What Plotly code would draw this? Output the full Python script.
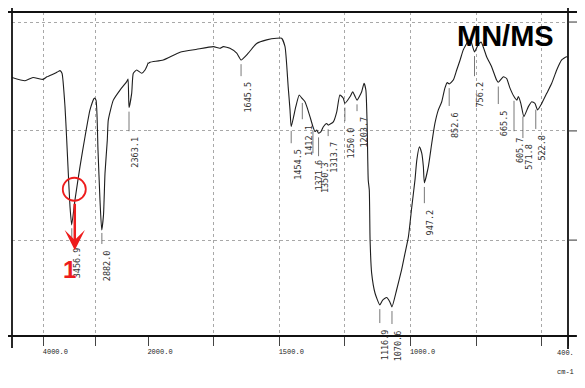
import numpy as np
import plotly.graph_objects as go

# ---- spectrum (wavenumber cm-1, transmittance %) ----
wavenumber = [4600, 4351, 4199, 4007, 3931, 3778, 3721, 3682, 3644, 3587, 3554, 3524,
              3491, 3459, 3396, 3300, 3204, 3109, 3027, 2994, 2956, 2918, 2885, 2851,
              2822, 2778, 2759, 2663, 2535, 2407, 2382, 2363, 2312, 2281, 2216, 2120,
              2057, 2000, 1992, 1942, 1878, 1814, 1751, 1726, 1713, 1688, 1662, 1645.5,
              1618, 1586, 1548, 1510, 1491, 1478, 1466, 1459, 1454.5, 1437, 1424, 1414,
              1402, 1395, 1383, 1371.6, 1364, 1357, 1350.3, 1341, 1332, 1319, 1313.7,
              1294, 1281, 1269, 1256, 1250, 1230, 1220, 1211, 1203.7, 1186, 1177, 1170,
              1165, 1161, 1157, 1154, 1148, 1135, 1116.9, 1106, 1091, 1079, 1070.6, 1053,
              1034, 1021, 1008, 995, 983, 976, 966, 957, 951, 947.2, 932, 919, 907, 894,
              881, 869, 860, 852.6, 837, 824, 811, 799, 786, 779, 770, 756.2, 743, 731,
              710, 691, 672, 665.5, 646, 634, 621, 605.7, 595, 589, 580, 568, 551, 538,
              526, 516, 500, 481, 462, 443, 424, 405, 400]
transmittance = [79.8, 78.8, 79.8, 79.2, 80.0, 81.1, 81.6, 81.9, 81.1, 70.8, 60.5, 50.3,
                 39.9, 34.3, 42.0, 52.3, 61.5, 69.8, 73.4, 72.8, 57.4, 42.0, 32.7, 37.3,
                 50.2, 60.5, 66.7, 72.8, 75.9, 78.5, 79.3, 70.5, 74.9, 81.1, 82.1, 81.1,
                 82.1, 84.1, 84.5, 85.2, 87.6, 88.5, 89.3, 88.8, 89.3, 88.8, 87.3, 85.2,
                 87.3, 90.3, 91.4, 91.9, 91.9, 89.3, 76.9, 69.8, 64.6, 70.8, 74.4, 73.4,
                 72.3, 70.8, 67.7, 64.6, 63.1, 63.6, 62.6, 63.1, 64.6, 65.6, 65.1,
                 66.1, 69.2, 74.4, 73.4, 71.8, 73.9, 75.4, 73.9, 72.8, 75.4, 78.0, 75.9,
                 64.6, 48.1, 45.1, 29.6, 19.4, 13.2, 9.6, 11.1, 11.9, 10.6, 9.0, 14.2,
                 20.4, 25.5, 30.6, 39.9, 48.1, 54.3, 58.4, 56.4, 52.3, 47.3, 52.3, 59.5, 65.6, 69.8,
                 72.3, 76.5, 78.2, 77.8, 79.0, 82.1, 85.2, 88.3, 90.3, 91.4, 91.0, 87.7, 89.8, 90.7,
                 86.2, 83.1, 79.0, 78.3, 80.0, 79.5, 76.5, 73.9, 72.8, 73.9, 71.9, 67.7, 70.8, 72.3,
                 71.8, 69.8, 71.8, 74.9, 78.0, 82.1, 85.2, 86.2, 86.0]

# ---- peak labels ----
peak_wn = [3456.9, 2882.0, 2363.1, 1645.5, 1454.5, 1412.1, 1371.6, 1350.3, 1313.7, 1250.0,
           1203.7, 1116.9, 1070.6, 947.2, 852.6, 756.2, 665.5, 605.7, 571.8, 522.8]
peak_text = ["3456.9", "2882.0", "2363.1", "1645.5", "1454.5", "1412.1", "1371.6", "1350.3",
             "1313.7", "1250.0", "1203.7", "1116.9", "1070.6", "947.2", "852.6", "756.2",
             "665.5", "605.7", "571.8", "522.8"]
peak_label_top = [28.1, 27.2, 62.0, 79.0, 58.3, 65.7, 55.2, 54.3, 60.5, 65.1, 68.2, 2.8, 2.5,
                  39.8, 69.8, 79.0, 70.4, 62.0, 59.9, 62.7]

# ---- axes ----
left_ticks = [4000, 3000]
left_ticktext = ["4000.0", ""]
right_ticks = [2000, 1750, 1500, 1250, 1000, 750, 500, 400]
right_ticktext = ["2000.0", "", "1500.0", "", "1000.0", "", "", ""]
end_tick_text = "400."
y_grid = [29.6, 63.3, 96.9]

LEFT_DOMAIN = 136 / 556

fig = go.Figure()
line_style = dict(color="#1e1e1e", width=1.1, shape="spline", smoothing=0.5)
fig.add_trace(go.Scatter(x=wavenumber, y=transmittance, mode="lines", line=line_style,
                         xaxis="x", yaxis="y", hoverinfo="skip"))
fig.add_trace(go.Scatter(x=wavenumber, y=transmittance, mode="lines", line=line_style,
                         xaxis="x2", yaxis="y2", hoverinfo="skip"))

# leader lines from each dip down to its label
wn_inc = np.array(wavenumber[::-1], dtype=float)
t_inc = np.array(transmittance[::-1], dtype=float)
lx, ly = [], []
for w, top in zip(peak_wn, peak_label_top):
    t_dip = float(np.interp(w, wn_inc, t_inc))
    y0, y1 = t_dip - 1.3, top + 1.2
    if y0 > y1:
        lx += [w, w, None]
        ly += [y0, y1, None]
for xa, ya in (("x", "y"), ("x2", "y2")):
    fig.add_trace(go.Scatter(x=lx, y=ly, mode="lines", line=dict(color="#555", width=0.8),
                             xaxis=xa, yaxis=ya, hoverinfo="skip"))

annotations = []
for w, txt, top in zip(peak_wn, peak_text, peak_label_top):
    annotations.append(dict(
        x=w, y=top, xref="x" if w >= 2000 else "x2", yref="y",
        text=txt, textangle=-90, showarrow=False, xanchor="center", yanchor="top",
        xshift=6, font=dict(family="DejaVu Sans Mono", size=8.5, color="#333")))

# red marker: circle, arrow and number
annotations.append(dict(x=3400, y=26.5, xref="x", yref="y", text="", showarrow=True,
                        ax=0, ay=-48, arrowhead=3, arrowwidth=2.5, arrowsize=1.35,
                        arrowcolor="#ee1c1c"))
annotations.append(dict(x=3510, y=20.4, xref="x", yref="y", text="<b>1</b>", showarrow=False,
                        xanchor="center", yanchor="middle",
                        font=dict(family="Liberation Sans", size=24, color="#ee1c1c")))
annotations.append(dict(x=0.887, y=0.926, xref="paper", yref="paper", text="<b>MN/MS</b>",
                        showarrow=False, xanchor="center", yanchor="middle",
                        font=dict(family="Liberation Sans", size=29, color="#000")))
annotations.append(dict(x=1.0144, y=-0.11, xref="paper", yref="paper", text="cm-1",
                        showarrow=False, xanchor="right", yanchor="middle",
                        font=dict(family="Liberation Mono", size=7, color="#222")))
annotations.append(dict(x=1.0144, y=-0.052, xref="paper", yref="paper",
                        text=end_tick_text, showarrow=False, xanchor="right",
                        yanchor="middle",
                        font=dict(family="Liberation Mono", size=7, color="#222")))

shapes = [
    dict(type="circle", xref="x", yref="y", xsizemode="pixel", ysizemode="pixel",
         xanchor=3409, yanchor=45.3, x0=-11.5, x1=11.5, y0=-11.5, y1=11.5,
         line=dict(color="#ee1c1c", width=1.8)),
    # frame
    dict(type="line", xref="paper", yref="paper", x0=-0.013, x1=1.03, y0=1, y1=1,
         line=dict(color="#111", width=1.8)),
    dict(type="line", xref="paper", yref="paper", x0=-0.013, x1=1.016, y0=0, y1=0,
         line=dict(color="#111", width=1.8)),
    dict(type="line", xref="paper", yref="paper", x0=0, x1=0, y0=-0.037, y1=1.025,
         line=dict(color="#111", width=1.8)),
    dict(type="line", xref="paper", yref="paper", x0=1, x1=1, y0=-0.04, y1=1.025,
         line=dict(color="#111", width=1.8)),
]
for g in y_grid:
    shapes.append(dict(type="line", xref="paper", yref="y", x0=1, x1=1.03, y0=g, y1=g,
                       line=dict(color="#333", width=1)))

grid = dict(showgrid=True, gridcolor="#a8a8a8", griddash="dot", gridwidth=1, zeroline=False,
            showline=False, automargin=False)
tickstyle = dict(ticks="outside", ticklen=9, tickwidth=1, tickcolor="#444",
                 tickfont=dict(family="Liberation Mono", size=7, color="#222"),
                 ticklabelshift=-12)

# page body adds an 8px offset, so the figure is smaller and margins shifted
fig.update_layout(
    template="none",
    width=569, height=372,
    margin=dict(l=4, r=9, t=4, b=44, autoexpand=False),
    paper_bgcolor="white", plot_bgcolor="white",
    showlegend=False,
    xaxis=dict(domain=[0, LEFT_DOMAIN], range=[4600, 2000], anchor="y",
               tickmode="array", tickvals=left_ticks, ticktext=left_ticktext,
               **grid, **tickstyle),
    xaxis2=dict(domain=[LEFT_DOMAIN, 1], range=[2000, 400], anchor="y2",
                tickmode="array", tickvals=right_ticks, ticktext=right_ticktext,
                **grid, **tickstyle),
    yaxis=dict(domain=[0, 1], range=[0, 100], anchor="x", tickmode="array",
               tickvals=y_grid, showticklabels=False, ticks="", **grid),
    yaxis2=dict(domain=[0, 1], range=[0, 100], anchor="x2", matches="y", tickmode="array",
                tickvals=y_grid, showticklabels=False, ticks="", **grid),
    annotations=annotations,
    shapes=shapes,
)

fig.write_html("out.html")
